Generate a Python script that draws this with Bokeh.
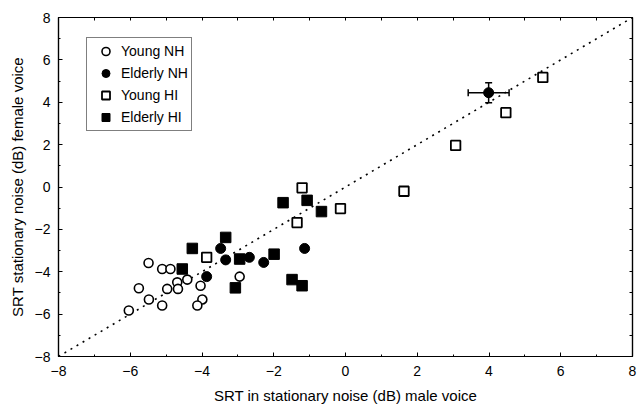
from bokeh.plotting import figure
from bokeh.models import (ColumnDataSource, Whisker, TeeHead, LinearAxis, FixedTicker,
                          Legend, LegendItem)
from bokeh.embed import file_html
from bokeh.resources import INLINE

# ---- data ----
young_nh_x = [-5.49, -5.11, -4.88, -5.76, -4.97, -4.69, -4.67, -4.41, -4.04, -5.48, -5.11, -6.04, -3.99, -4.13, -2.95]
young_nh_y = [-3.59, -3.87, -3.87, -4.78, -4.81, -4.50, -4.81, -4.37, -4.66, -5.31, -5.59, -5.83, -5.31, -5.59, -4.23]

elderly_nh_x = [-3.48, -3.34, -2.68, -2.28, -1.14, -3.87]
elderly_nh_y = [-2.90, -3.44, -3.32, -3.56, -2.90, -4.23]

young_hi_x = [-1.21, -0.14, -1.35, -3.87, 1.63, 3.07, 4.47, 5.50]
young_hi_y = [-0.04, -1.02, -1.68, -3.32, -0.20, 1.96, 3.51, 5.17]

elderly_hi_x = [-1.74, -1.07, -0.67, -3.34, -4.27, -1.99, -2.95, -4.55, -3.07, -1.49, -1.21]
elderly_hi_y = [-0.74, -0.63, -1.16, -2.38, -2.90, -3.17, -3.40, -3.87, -4.76, -4.37, -4.66]

# representative measurement error marker
err_x = [3.99]
err_y = [4.45]
err_dx = [0.57]
err_dy = [0.47]

diag = [-8, 8]
major_ticks = [-8, -6, -4, -2, 0, 2, 4, 6, 8]
minor_ticks = [-7, -5, -3, -1, 1, 3, 5, 7]
all_ticks = list(range(-8, 9))

FONT = "Liberation Sans"

p = figure(width=640, height=406, x_range=(-8, 8), y_range=(-8, 8),
           output_backend="svg", toolbar_location=None,
           min_border_left=58, min_border_right=8, min_border_top=17, min_border_bottom=48)
p.grid.visible = False
p.outline_line_color = "black"
p.outline_line_width = 1.2
p.background_fill_color = "white"
p.border_fill_color = "white"

def style_axis(ax, labels=True):
    if labels:
        ax.ticker = FixedTicker(ticks=major_ticks, minor_ticks=minor_ticks)
    else:
        ax.ticker = FixedTicker(ticks=[], minor_ticks=all_ticks)
    ax.major_tick_in = 4
    ax.major_tick_out = 0
    ax.minor_tick_in = 2 if labels else 3
    ax.minor_tick_out = 0
    ax.axis_line_color = "black"
    ax.axis_line_width = 1.2
    ax.major_tick_line_color = "black"
    ax.minor_tick_line_color = "black"
    ax.major_label_text_font = FONT
    ax.major_label_text_color = "black"
    ax.major_label_text_font_size = "14px"
    ax.axis_label_text_font = FONT
    ax.axis_label_text_font_size = "15px"
    ax.axis_label_text_font_style = "normal"
    ax.axis_label_text_color = "black"

p.xaxis.axis_label = "SRT in stationary noise (dB) male voice"
p.yaxis.axis_label = "SRT stationary noise (dB) female voice"
style_axis(p.xaxis[0])
style_axis(p.yaxis[0])
p.xaxis.major_label_standoff = 9
p.xaxis.axis_label_standoff = 8
p.yaxis.major_label_standoff = 8
p.yaxis.axis_label_standoff = 6
p.yaxis.major_label_orientation = "horizontal"

top = LinearAxis()
right = LinearAxis()
style_axis(top, labels=False)
style_axis(right, labels=False)
p.add_layout(top, "above")
p.add_layout(right, "right")

# diagonal
p.line(diag, diag, line_color="black", line_width=1.6, line_dash="2 5")

r1 = p.scatter(young_nh_x, young_nh_y, marker="circle", size=9,
               fill_color="white", line_color="black", line_width=1.6)
r2 = p.scatter(elderly_nh_x, elderly_nh_y, marker="circle", size=10,
               fill_color="black", line_color="black")
r3 = p.scatter(young_hi_x, young_hi_y, marker="square", size=9.5,
               fill_color="white", line_color="black", line_width=1.8)
r4 = p.scatter(elderly_hi_x, elderly_hi_y, marker="square", size=10.5,
               fill_color="black", line_color="black")

# error bar marker
src = ColumnDataSource(dict(x=err_x, y=err_y,
                            xl=[a - b for a, b in zip(err_x, err_dx)],
                            xu=[a + b for a, b in zip(err_x, err_dx)],
                            yl=[a - b for a, b in zip(err_y, err_dy)],
                            yu=[a + b for a, b in zip(err_y, err_dy)]))
wx = Whisker(source=src, base="y", lower="xl", upper="xu", dimension="width",
             line_color="black", line_width=1.5,
             upper_head=TeeHead(size=7, line_color="black", line_width=1.5),
             lower_head=TeeHead(size=7, line_color="black", line_width=1.5))
wy = Whisker(source=src, base="x", lower="yl", upper="yu", dimension="height",
             line_color="black", line_width=1.5,
             upper_head=TeeHead(size=7, line_color="black", line_width=1.5),
             lower_head=TeeHead(size=7, line_color="black", line_width=1.5))
p.add_layout(wx)
p.add_layout(wy)
p.scatter("x", "y", source=src, marker="circle", size=10, fill_color="black", line_color="black")

legend = Legend(items=[LegendItem(label="Young NH", renderers=[r1]),
                       LegendItem(label="Elderly NH", renderers=[r2]),
                       LegendItem(label="Young HI", renderers=[r3]),
                       LegendItem(label="Elderly HI", renderers=[r4])],
                location=(28, 225))
legend.label_text_font = FONT
legend.label_text_font_size = "14px"
legend.label_text_color = "black"
legend.border_line_color = "black"
legend.border_line_width = 1
legend.background_fill_alpha = 1
legend.padding = 3
legend.margin = 0
legend.spacing = 2
legend.glyph_width = 31
legend.glyph_height = 20
legend.label_height = 20
legend.label_standoff = 0
p.add_layout(legend, "center")

open("out.html", "w").write(file_html(p, INLINE))
